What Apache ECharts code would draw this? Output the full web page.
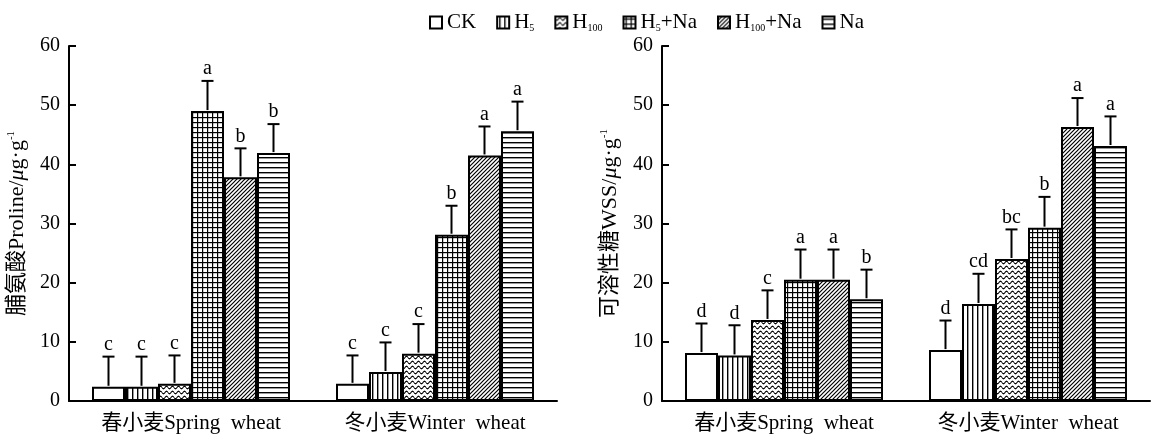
<!DOCTYPE html>
<html><head><meta charset="utf-8">
<script src="https://cdn.jsdelivr.net/npm/echarts@6/dist/echarts.min.js"></script>
<style>html,body{margin:0;padding:0;background:#fff}#c{width:1160px;height:437px}</style>
</head><body><div id="c"></div>
<script>
// ---------- data ----------
const categories = ['春小麦Spring  wheat', '冬小麦Winter  wheat'];
const treatments = ['CK', 'H5', 'H100', 'H5+Na', 'H100+Na', 'Na'];
const yTicks = [0, 10, 20, 30, 40, 50, 60];

// Proline (left panel)
const prolineSpring    = [2.4, 2.4, 2.9, 49.0, 37.8, 41.9];
const prolineSpringErr = [5.1, 5.1, 4.8, 5.1, 4.9, 4.9];
const prolineSpringSig = ['c', 'c', 'c', 'a', 'b', 'b'];
const prolineWinter    = [2.9, 4.9, 8.0, 28.1, 41.5, 45.6];
const prolineWinterErr = [4.8, 5.0, 5.0, 4.9, 4.9, 5.0];
const prolineWinterSig = ['c', 'c', 'c', 'b', 'a', 'a'];

// WSS (right panel)
const wssSpring    = [8.1, 7.7, 13.7, 20.5, 20.5, 17.2];
const wssSpringErr = [5.0, 5.1, 5.0, 5.1, 5.1, 5.0];
const wssSpringSig = ['d', 'd', 'c', 'a', 'a', 'b'];
const wssWinter    = [8.6, 16.4, 24.0, 29.3, 46.3, 43.1];
const wssWinterErr = [5.0, 5.1, 5.0, 5.2, 4.9, 5.0];
const wssWinterSig = ['d', 'cd', 'bc', 'b', 'a', 'a'];

// ---------- styling ----------
const FONT = '"Liberation Serif", "Noto Sans CJK SC", serif';
const BAR_W = 33;

function pattern(kind) {
  const c = document.createElement('canvas');
  let w = 5, h = 5;
  if (kind === 'diag') { w = 4; h = 4; }
  if (kind === 'wave') { w = 6; h = 5; }
  c.width = w; c.height = h;
  const g = c.getContext('2d');
  g.fillStyle = '#fff'; g.fillRect(0, 0, w, h);
  g.strokeStyle = '#000'; g.fillStyle = '#000';
  if (kind === 'vlines') { g.fillRect(2, 0, 1.4, h); }
  else if (kind === 'hlines') { g.fillRect(0, 2, w, 1.4); }
  else if (kind === 'grid') { g.fillRect(2, 0, 1.2, h); g.fillRect(0, 2, w, 1.2); }
  else if (kind === 'diag') {
    g.lineWidth = 1.2;
    g.beginPath();
    g.moveTo(0, h); g.lineTo(w, 0);
    g.moveTo(-1, 1); g.lineTo(1, -1);
    g.moveTo(w - 1, h + 1); g.lineTo(w + 1, h - 1);
    g.stroke();
  } else if (kind === 'wave') {
    g.lineWidth = 1.1;
    g.beginPath();
    for (let x = 0; x <= w; x += 0.5) {
      const y = 2.5 + 1.3 * Math.sin(2 * Math.PI * x / w);
      if (x === 0) g.moveTo(x, y); else g.lineTo(x, y);
    }
    g.stroke();
  }
  return { image: c, repeat: 'repeat' };
}
const fills = ['#fff', pattern('vlines'), pattern('wave'), pattern('grid'), pattern('diag'), pattern('hlines')];

const legendLabels = {
  'CK': 'CK', 'H5': 'H{s|5}', 'H100': 'H{s|100}',
  'H5+Na': 'H{s|5}+Na', 'H100+Na': 'H{s|100}+Na', 'Na': 'Na'
};

function barSeries(gridIdx, springVals, winterVals) {
  return treatments.map((t, i) => ({
    name: t, type: 'bar', xAxisIndex: gridIdx, yAxisIndex: gridIdx,
    barWidth: BAR_W, barGap: '0%',
    data: [springVals[i], winterVals[i]],
    itemStyle: { color: fills[i], borderColor: '#000', borderWidth: 2 },
    emphasis: { disabled: true }, silent: true
  }));
}

function errSeries(gridIdx, springVals, springErr, springSig, winterVals, winterErr, winterSig) {
  const data = [], sigs = [];
  treatments.forEach((t, i) => {
    data.push([0, i, springVals[i], springErr[i]]); sigs.push(springSig[i]);
    data.push([1, i, winterVals[i], winterErr[i]]); sigs.push(winterSig[i]);
  });
  return {
    type: 'custom', xAxisIndex: gridIdx, yAxisIndex: gridIdx, silent: true, z: 10, clip: false,
    encode: { x: 0, y: 2 },
    data: data,
    renderItem: function (params, api) {
      const cat = api.value(0), t = api.value(1), v = api.value(2), e = api.value(3);
      const base = api.coord([cat, v]);
      const x = base[0] + (t - 2.5) * BAR_W;
      const y0 = base[1] - 1;
      const yTop = api.coord([cat, v + e])[1];
      const st = { stroke: '#000', lineWidth: 2 };
      return {
        type: 'group',
        children: [
          { type: 'line', shape: { x1: x, y1: y0, x2: x, y2: yTop }, style: st },
          { type: 'line', shape: { x1: x - 6, y1: yTop, x2: x + 6, y2: yTop }, style: st },
          { type: 'text', x: x, y: yTop - 2,
            style: { text: sigs[params.dataIndex], fill: '#000', font: '20px ' + FONT,
                     align: 'center', verticalAlign: 'bottom' } }
        ]
      };
    }
  };
}

function xAxis(gridIdx) {
  return {
    type: 'category', gridIndex: gridIdx, data: categories,
    axisLine: { lineStyle: { color: '#000', width: 2 } },
    axisTick: { inside: true, length: 6, lineStyle: { color: '#000', width: 2 } },
    axisLabel: { color: '#000', fontSize: 21, fontFamily: FONT, margin: 12 }
  };
}
function yAxis(gridIdx, nameRich) {
  return {
    type: 'value', gridIndex: gridIdx, min: yTicks[0], max: yTicks[yTicks.length - 1], interval: 10,
    name: nameRich, nameLocation: 'middle', nameRotate: 90, nameGap: 41,
    nameTextStyle: {
      color: '#000', fontSize: 22, fontFamily: FONT,
      rich: {
        t: { fontSize: 22, fontFamily: FONT, color: '#000' },
        i: { fontSize: 22, fontFamily: FONT, fontStyle: 'italic', color: '#000' },
        p: { fontSize: 11, fontFamily: FONT, color: '#000', verticalAlign: 'top', padding: [0, 0, 10, 0] }
      }
    },
    axisLine: { show: true, lineStyle: { color: '#000', width: 2 } },
    axisTick: { show: true, inside: true, length: 7, lineStyle: { color: '#000', width: 2 } },
    axisLabel: { color: '#000', fontSize: 20, fontFamily: FONT, margin: 9 },
    splitLine: { show: false }
  };
}

const chart = echarts.init(document.getElementById('c'), null, { renderer: 'canvas' });
chart.setOption({
  animation: false,
  backgroundColor: '#fff',
  legend: {
    data: treatments, left: 424, top: 7, itemWidth: 12, itemHeight: 12, itemGap: 20,
    icon: 'rect',
    formatter: n => legendLabels[n],
    textStyle: {
      color: '#000', fontSize: 21, fontFamily: FONT,
      rich: { s: { fontSize: 10, fontFamily: FONT, color: '#000', verticalAlign: 'bottom', padding: [10, 0, 0, 0] } }
    },
    itemStyle: { borderColor: '#000', borderWidth: 2 }
  },
  grid: [
    { left: 69, width: 488, top: 46, height: 355 },
    { left: 662, width: 488, top: 46, height: 355 }
  ],
  xAxis: [xAxis(0), xAxis(1)],
  yAxis: [
    yAxis(0, '{t|脯氨酸Proline/}{i|μ}{t|g·g}{p|-1}'),
    yAxis(1, '{t|可溶性糖WSS/}{i|μ}{t|g·g}{p|-1}')
  ],
  series: [].concat(
    barSeries(0, prolineSpring, prolineWinter),
    barSeries(1, wssSpring, wssWinter),
    [errSeries(0, prolineSpring, prolineSpringErr, prolineSpringSig, prolineWinter, prolineWinterErr, prolineWinterSig),
     errSeries(1, wssSpring, wssSpringErr, wssSpringSig, wssWinter, wssWinterErr, wssWinterSig)]
  )
});
</script></body></html>
